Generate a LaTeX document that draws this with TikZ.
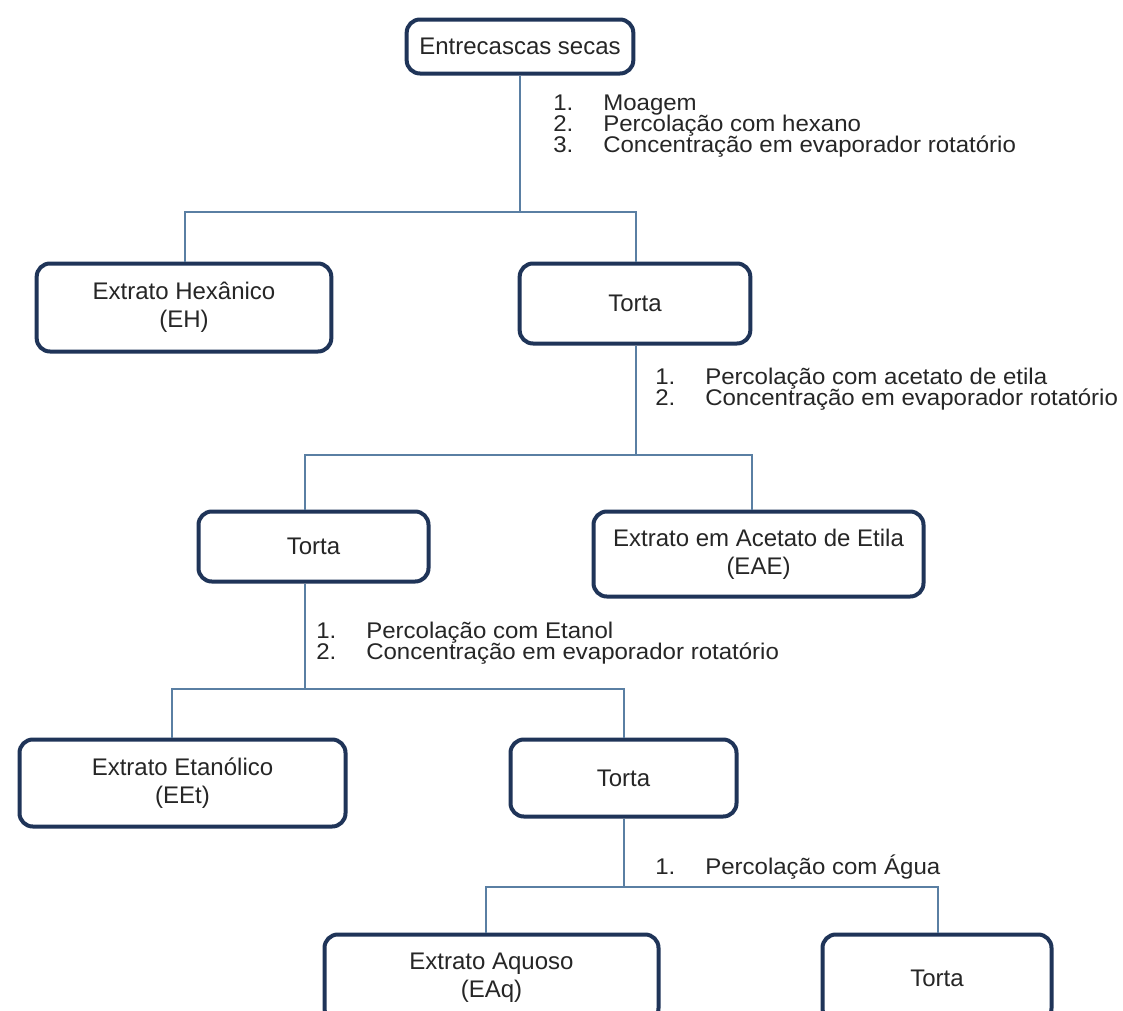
\documentclass[tikz,border=0pt]{standalone}
\usepackage{fontspec}
\setmainfont{Liberation Sans}
\newfontfamily\stepfont[FakeStretch=1.06]{Liberation Sans}
\definecolor{boxline}{HTML}{1F3458}
\definecolor{connc}{HTML}{5A7FA3}
\definecolor{txt}{HTML}{262626}
\newcommand{\stp}[2]{\makebox[37.5pt][l]{\smash{#1}}\smash{#2}}
\begin{document}
\begin{tikzpicture}[x=0.75pt,y=-0.75pt,
 box/.style={draw=boxline, line width=3pt, rounded corners=10pt, fill=white, text=txt, align=center, inner sep=0pt, font=\fontsize{18}{21}\selectfont},
 conn/.style={draw=connc, line width=1.1pt},
 steps/.style={anchor=north west, inner sep=0pt, text=txt, font=\stepfont\fontsize{17}{15.5}\selectfont}]
\clip (0,0) rectangle (1123,1010);
\fill[white] (0,0) rectangle (1123,1010);

% boxes
\node[box, minimum width=170pt, minimum height=40.5pt] (t0) at (520,46.5) {Entrecascas secas};
\node[box, minimum width=221pt, minimum height=66pt] (eh) at (184,307.5) {Extrato Hexânico\\(EH)};
\node[box, minimum width=173pt, minimum height=60pt] (torta1) at (635,303.5) {Torta};
\node[box, minimum width=172.5pt, minimum height=52.5pt] (torta2) at (313.5,546.5) {Torta};
\node[box, minimum width=247.5pt, minimum height=63.75pt] (eae) at (758.5,554) {Extrato em Acetato de Etila\\(EAE)};
\node[box, minimum width=244.5pt, minimum height=65.25pt] (eet) at (182.5,783) {Extrato Etanólico\\(EEt)};
\node[box, minimum width=169.5pt, minimum height=57.75pt] (torta3) at (623.5,778) {Torta};
\node[box, minimum width=250.5pt, minimum height=65.25pt] (eaq) at (491.5,978) {Extrato Aquoso\\(EAq)};
\node[box, minimum width=171.75pt, minimum height=65.25pt] (torta4) at (937,978) {Torta};

% junctions
\coordinate (j1) at (520,212);
\coordinate (j1l) at (185,212);
\coordinate (j1r) at (636,212);
\coordinate (j2) at (636,455);
\coordinate (j2l) at (305,455);
\coordinate (j2r) at (752,455);
\coordinate (j3) at (305,689);
\coordinate (j3l) at (172,689);
\coordinate (j3r) at (624,689);
\coordinate (j4) at (624,887);
\coordinate (j4l) at (486,887);
\coordinate (j4r) at (938,887);

% connectors
\draw[conn] (t0.south) -- (j1);
\draw[conn] (eh.north -| j1l) -- (j1l) -- (j1r) -- (torta1.north -| j1r);
\draw[conn] (torta1.south -| j2) -- (j2);
\draw[conn] (torta2.north -| j2l) -- (j2l) -- (j2r) -- (eae.north -| j2r);
\draw[conn] (torta2.south -| j3) -- (j3);
\draw[conn] (eet.north -| j3l) -- (j3l) -- (j3r) -- (torta3.north -| j3r);
\draw[conn] (torta3.south -| j4) -- (j4);
\draw[conn] (eaq.north -| j4l) -- (j4l) -- (j4r) -- (torta4.north -| j4r);

% step labels
\node[steps] (s1) at (553,96) {\begin{tabular}{@{}l@{}}\stp{1.}{Moagem}\\\stp{2.}{Percolação com hexano}\\\stp{3.}{Concentração em evaporador rotatório}\end{tabular}};
\node[steps] (s2) at (655,370) {\begin{tabular}{@{}l@{}}\stp{1.}{Percolação com acetato de etila}\\\stp{2.}{Concentração em evaporador rotatório}\end{tabular}};
\node[steps] (s3) at (316,624) {\begin{tabular}{@{}l@{}}\stp{1.}{Percolação com Etanol}\\\stp{2.}{Concentração em evaporador rotatório}\end{tabular}};
\node[steps] (s4) at (655,860) {\begin{tabular}{@{}l@{}}\stp{1.}{Percolação com Água}\end{tabular}};
\end{tikzpicture}
\end{document}
